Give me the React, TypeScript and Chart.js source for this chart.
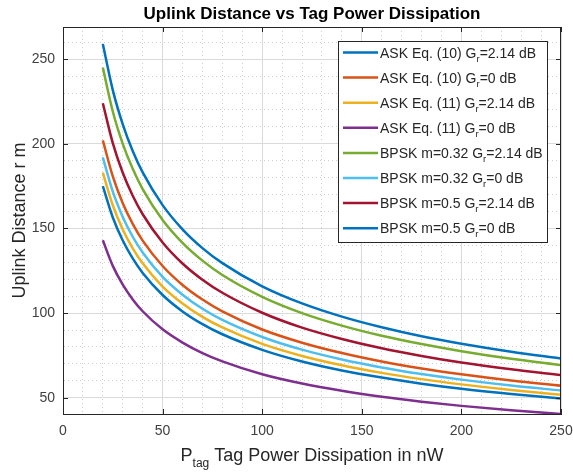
import React, { useEffect, useRef } from "react";
import { Chart, registerables } from "chart.js";

Chart.register(...registerables);

// ---- data ----
const powerNW = [20, 25, 30, 35, 40, 50, 60, 70, 80, 100, 120, 140, 160, 180, 200, 225, 250];

const askEq10Gr214 = [259, 231.7, 211.5, 195.8, 183.1, 163.8, 149.5, 138.4, 129.5, 115.8, 105.7, 97.9, 91.6, 86.3, 81.9, 77.2, 73.2];
const askEq10Gr0 = [202, 180.7, 164.9, 152.7, 142.8, 127.8, 116.6, 108.0, 101.0, 90.3, 82.5, 76.4, 71.4, 67.3, 63.9, 60.2, 57.1];
const askEq11Gr214 = [183, 163.7, 149.4, 138.3, 129.4, 115.7, 105.7, 97.8, 91.5, 81.8, 74.7, 69.2, 64.7, 61.0, 57.9, 54.6, 51.8];
const askEq11Gr0 = [143, 127.9, 116.8, 108.1, 101.1, 90.4, 82.6, 76.4, 71.5, 63.9, 58.4, 54.1, 50.6, 47.7, 45.2, 42.6, 40.4];
const bpsk032Gr214 = [245, 219.1, 200.0, 185.2, 173.2, 155.0, 141.5, 131.0, 122.5, 109.6, 100.0, 92.6, 86.6, 81.7, 77.5, 73.0, 69.3];
const bpsk032Gr0 = [192, 171.7, 156.8, 145.1, 135.8, 121.4, 110.9, 102.6, 96.0, 85.9, 78.4, 72.6, 67.9, 64.0, 60.7, 57.2, 54.3];
const bpsk05Gr214 = [224, 200.4, 182.9, 169.3, 158.4, 141.7, 129.3, 119.7, 112.0, 100.2, 91.4, 84.7, 79.2, 74.7, 70.8, 66.8, 63.4];
const bpsk05Gr0 = [175, 156.5, 142.9, 132.3, 123.7, 110.7, 101.0, 93.5, 87.5, 78.3, 71.4, 66.1, 61.9, 58.3, 55.3, 52.2, 49.5];

const seriesValues = [askEq10Gr214, askEq10Gr0, askEq11Gr214, askEq11Gr0, bpsk032Gr214, bpsk032Gr0, bpsk05Gr214, bpsk05Gr0];
const legendPrefixes = [
  "ASK Eq. (10) G",
  "ASK Eq. (10) G",
  "ASK Eq. (11) G",
  "ASK Eq. (11) G",
  "BPSK m=0.32 G",
  "BPSK m=0.32 G",
  "BPSK m=0.5 G",
  "BPSK m=0.5 G",
];
const legendSubscripts = ["r", "r", "r", "r", "r", "r", "r", "r"];
const legendSuffixes = ["=2.14 dB", "=0 dB", "=2.14 dB", "=0 dB", "=2.14 dB", "=0 dB", "=2.14 dB", "=0 dB"];
const seriesColors = ["#0072BD", "#D95319", "#EDB120", "#7E2F8E", "#77AC30", "#4DBEEE", "#A2142F", "#0072BD"];

const chartTitle = "Uplink Distance vs Tag Power Dissipation";
const yAxisTitle = "Uplink Distance r m";
const xTitleMain = "P";
const xTitleSub = "tag";
const xTitleRest = " Tag Power Dissipation in nW";

const xMin = 0;
const xMax = 250;
const yMin = 40.4;
const yMax = 269;
const minorStep = 10;
const majorStep = 50;

const FONT = '"Liberation Sans", Arial, Helvetica, sans-serif';

const isMajor = (v: number | undefined) =>
  v !== undefined && v !== null && Math.abs(v % majorStep) < 1e-6;

const decorPlugin = {
  id: "decor",
  afterDraw(chart: any) {
    const { ctx, chartArea: a, scales } = chart;
    const xs = scales.x;
    const ys = scales.y;
    ctx.save();

    // box top and right
    ctx.strokeStyle = "#262626";
    ctx.lineWidth = 1;
    ctx.beginPath();
    ctx.moveTo(a.left, Math.round(a.top) + 0.5);
    ctx.lineTo(a.right, Math.round(a.top) + 0.5);
    ctx.moveTo(Math.round(a.right) - 0.5, a.top);
    ctx.lineTo(Math.round(a.right) - 0.5, a.bottom);
    ctx.stroke();

    // inward major tick marks on all four sides
    const tl = 5;
    ctx.beginPath();
    xs.ticks.forEach((t: any) => {
      if (!isMajor(t.value)) return;
      const px = Math.round(xs.getPixelForValue(t.value)) + 0.5;
      ctx.moveTo(px, a.bottom);
      ctx.lineTo(px, a.bottom - tl);
      ctx.moveTo(px, a.top);
      ctx.lineTo(px, a.top + tl);
    });
    ys.ticks.forEach((t: any) => {
      if (!isMajor(t.value)) return;
      const py = Math.round(ys.getPixelForValue(t.value)) + 0.5;
      ctx.moveTo(a.left, py);
      ctx.lineTo(a.left + tl, py);
      ctx.moveTo(a.right, py);
      ctx.lineTo(a.right - tl, py);
    });
    ctx.stroke();

    const cx = (a.left + a.right) / 2;
    const cy = (a.top + a.bottom) / 2;

    // title
    ctx.fillStyle = "#000";
    ctx.font = `bold 17px ${FONT}`;
    ctx.textAlign = "center";
    ctx.textBaseline = "alphabetic";
    ctx.fillText(chartTitle, cx, 18.5);

    // y axis title
    ctx.save();
    ctx.translate(25, cy);
    ctx.rotate(-Math.PI / 2);
    ctx.font = `18px ${FONT}`;
    ctx.fillStyle = "#262626";
    ctx.textAlign = "center";
    ctx.fillText(yAxisTitle, 0, 0);
    ctx.restore();

    // x axis title with subscript
    ctx.textAlign = "left";
    ctx.fillStyle = "#262626";
    const mainFont = `18px ${FONT}`;
    const subFont = `12px ${FONT}`;
    ctx.font = mainFont;
    const wP = ctx.measureText(xTitleMain).width;
    const wRest = ctx.measureText(xTitleRest).width;
    ctx.font = subFont;
    const wSub = ctx.measureText(xTitleSub).width;
    const total = wP + wSub + wRest;
    let tx = cx - total / 2;
    const base = 461;
    ctx.font = mainFont;
    ctx.fillText(xTitleMain, tx, base);
    tx += wP;
    ctx.font = subFont;
    ctx.fillText(xTitleSub, tx, base + 6);
    tx += wSub;
    ctx.font = mainFont;
    ctx.fillText(xTitleRest, tx, base);

    // legend
    const lf = `14px ${FONT}`;
    const lsf = `9.5px ${FONT}`;
    const widths = legendPrefixes.map((p, i) => {
      ctx.font = lf;
      const w1 = ctx.measureText(p).width + ctx.measureText(legendSuffixes[i]).width;
      ctx.font = lsf;
      return w1 + ctx.measureText(legendSubscripts[i]).width;
    });
    const maxW = Math.max(...widths);
    const boxW = Math.round(42 + maxW + 4);
    const boxH = 201;
    const boxRight = Math.round(a.right - 14);
    const boxLeft = boxRight - boxW;
    const boxTop = Math.round(a.top + 14);
    ctx.fillStyle = "#fff";
    ctx.fillRect(boxLeft, boxTop, boxW, boxH);
    ctx.strokeStyle = "#262626";
    ctx.lineWidth = 1;
    ctx.strokeRect(boxLeft + 0.5, boxTop + 0.5, boxW, boxH);
    const rowGap = 25.1;
    legendPrefixes.forEach((p, i) => {
      const ly = boxTop + 11.5 + i * rowGap;
      ctx.strokeStyle = seriesColors[i];
      ctx.lineWidth = 2.5;
      ctx.beginPath();
      ctx.moveTo(boxLeft + 5, ly);
      ctx.lineTo(boxLeft + 40, ly);
      ctx.stroke();
      ctx.fillStyle = "#262626";
      let lx = boxLeft + 42;
      const bl = ly + 5;
      ctx.font = lf;
      ctx.fillText(p, lx, bl);
      lx += ctx.measureText(p).width;
      ctx.font = lsf;
      ctx.fillText(legendSubscripts[i], lx, bl + 4);
      lx += ctx.measureText(legendSubscripts[i]).width;
      ctx.font = lf;
      ctx.fillText(legendSuffixes[i], lx, bl);
    });

    ctx.restore();
  },
};

export default function App() {
  const ref = useRef<HTMLCanvasElement>(null);
  useEffect(() => {
    document.body.style.margin = "0";
    const canvas = ref.current!;
    const gridColor = (c: any) => (isMajor(c.tick?.value) ? "#dadada" : "#cfcfcf");
    const gridDash = (c: any) => (isMajor(c.tick?.value) ? [] : [1, 3]);
    const chart = new Chart(canvas, {
      type: "line",
      data: {
        datasets: seriesValues.map((vals, i) => ({
          label: legendPrefixes[i] + legendSubscripts[i] + legendSuffixes[i],
          data: vals.map((v, j) => ({ x: powerNW[j], y: v })),
          borderColor: seriesColors[i],
          backgroundColor: seriesColors[i],
          borderWidth: 2.5,
          pointRadius: 0,
          fill: false,
          cubicInterpolationMode: "monotone" as const,
        })),
      },
      options: {
        animation: false,
        responsive: false,
        devicePixelRatio: 1,
        layout: { padding: { left: 0, top: 27, right: 12, bottom: 0 } },
        plugins: {
          legend: { display: false },
          tooltip: { enabled: false },
          title: { display: false },
        },
        scales: {
          x: {
            type: "linear",
            min: xMin,
            max: xMax,
            afterFit: (s: any) => {
              s.height = 58;
              s.paddingLeft = 0;
              s.paddingRight = 0;
            },
            grid: { color: gridColor, lineWidth: 1, drawTicks: false },
            border: { display: true, color: "#262626", width: 1, dash: gridDash },
            ticks: {
              stepSize: minorStep,
              autoSkip: false,
              maxRotation: 0,
              includeBounds: false,
              padding: 9,
              color: "#404040",
              font: { family: FONT, size: 14 },
              callback: (v: any) => (isMajor(Number(v)) ? String(v) : ""),
            },
          },
          y: {
            type: "linear",
            min: yMin,
            max: yMax,
            afterFit: (s: any) => {
              s.width = 63;
              s.paddingTop = 0;
              s.paddingBottom = 0;
            },
            grid: { color: gridColor, lineWidth: 1, drawTicks: false },
            border: { display: true, color: "#262626", width: 1, dash: gridDash },
            ticks: {
              stepSize: minorStep,
              autoSkip: false,
              includeBounds: false,
              padding: 8,
              color: "#404040",
              font: { family: FONT, size: 14 },
              callback: (v: any) => (isMajor(Number(v)) ? String(v) : ""),
            },
          },
        },
      },
      plugins: [decorPlugin],
    });
    return () => chart.destroy();
  }, []);
  return (
    <div style={{ width: 573, height: 472, background: "#fff" }}>
      <canvas ref={ref} width={573} height={472} style={{ display: "block" }} />
    </div>
  );
}
